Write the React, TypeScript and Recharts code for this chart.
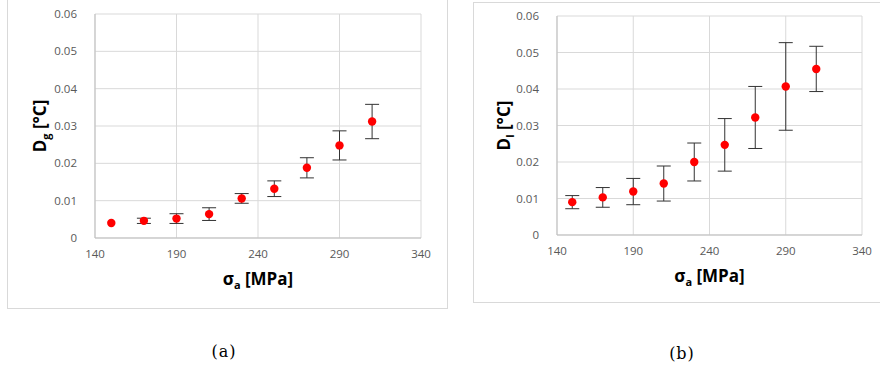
import React from "react";
import { ScatterChart, Scatter, XAxis, YAxis, CartesianGrid, ErrorBar, Label } from "recharts";

// stress amplitude [MPa]
const stress = [150, 170, 190, 210, 230, 250, 270, 290, 310];

// D_g and its scatter (the first point has no visible bar)
const dg = [0.004, 0.0046, 0.0052, 0.0064, 0.0106, 0.0132, 0.0188, 0.0248, 0.0312];
const dgErr = [null, 0.0007, 0.0013, 0.0017, 0.0013, 0.0021, 0.0027, 0.0039, 0.0046];

// D_l and its scatter
const dl = [0.009, 0.0103, 0.0119, 0.0141, 0.02, 0.0247, 0.0322, 0.0407, 0.0455];
const dlErr = [0.0018, 0.0027, 0.0036, 0.0048, 0.0052, 0.0072, 0.0085, 0.012, 0.0062];

const xTicks = [140, 190, 240, 290, 340];
const yTicks = [0, 0.01, 0.02, 0.03, 0.04, 0.05, 0.06];

const FONT = "'Open Sans', sans-serif";
const GRID = "#d9d9d9";
const TICK = { fill: "#595959", fontSize: 11.5, fontFamily: FONT };

const XTitle = ({ viewBox, dy }: any) => {
  const { x, y, width } = viewBox;
  return (
    <text x={x + width / 2} y={y + dy} textAnchor="middle" fontFamily={FONT} fontWeight={700} fontSize={17} fill="#000">
      σ<tspan fontSize={11} dy={4}>a</tspan>
      <tspan dy={-4}> [MPa]</tspan>
    </text>
  );
};

const YTitle = ({ viewBox, sub, gap }: any) => {
  const { x, y, width, height } = viewBox;
  const bx = x + width - gap;
  const cy = y + height / 2;
  return (
    <text
      x={bx}
      y={cy}
      transform={`rotate(-90 ${bx} ${cy})`}
      textAnchor="middle"
      fontFamily={FONT}
      fontWeight={700}
      fontSize={17}
      fill="#000"
    >
      D<tspan fontSize={11} dy={4}>{sub}</tspan>
      <tspan dy={-4}> [°C]</tspan>
    </text>
  );
};

const Dot = (p: any) => <circle cx={p.cx} cy={p.cy} r={4.2} fill="#ff0000" />;
const NoDot = () => <g />;

type PanelProps = {
  left: number;
  values: number[];
  errors: (number | null)[];
  sub: string;
  margin: { top: number; right: number; bottom: number; left: number };
  yWidth: number;
  xMargin: number;
  xTitleDy: number;
  yTitleGap: number;
};

const Panel = ({ left, values, errors, sub, margin, yWidth, xMargin, xTitleDy, yTitleGap }: PanelProps) => {
  const data = stress.map((s, i) => ({ x: s, y: values[i], err: errors[i] }));
  return (
    <div style={{ position: "absolute", left, top: 0 }}>
      <ScatterChart width={440} height={310} margin={margin}>
        <CartesianGrid stroke={GRID} strokeWidth={1} />
        <XAxis
          type="number"
          dataKey="x"
          domain={[140, 340]}
          ticks={xTicks}
          tick={TICK}
          tickLine={false}
          tickSize={0}
          tickMargin={xMargin}
          axisLine={{ stroke: "#bfbfbf" }}
          height={30}
        >
          <Label content={(props: any) => <XTitle {...props} dy={xTitleDy} />} />
        </XAxis>
        <YAxis
          type="number"
          dataKey="y"
          domain={[0, 0.06]}
          ticks={yTicks}
          tick={TICK}
          tickLine={false}
          tickSize={0}
          tickMargin={18}
          axisLine={{ stroke: "#bfbfbf" }}
          width={yWidth}
        >
          <Label content={(props: any) => <YTitle {...props} sub={sub} gap={yTitleGap} />} />
        </YAxis>
        {/* error bars first so the markers sit on top of them */}
        <Scatter data={data} shape={NoDot} isAnimationActive={false}>
          <ErrorBar dataKey="err" direction="y" width={7} stroke="#333333" strokeWidth={1} isAnimationActive={false} />
        </Scatter>
        <Scatter data={data} shape={Dot} isAnimationActive={false} />
      </ScatterChart>
    </div>
  );
};

export default function App() {
  return (
    <div style={{ position: "absolute", left: 0, top: 0, width: 880, height: 374, background: "#fff", overflow: "hidden" }}>
      <div style={{ position: "absolute", left: 7, top: -2, width: 441, height: 311, border: `1px solid ${GRID}`, boxSizing: "border-box" }} />
      <div style={{ position: "absolute", left: 473, top: 2, width: 420, height: 301, border: `1px solid ${GRID}`, boxSizing: "border-box" }} />
      <Panel
        left={0}
        values={dg}
        errors={dgErr}
        sub="g"
        margin={{ top: 14, right: 19, bottom: 42, left: 0 }}
        yWidth={95}
        xMargin={12}
        xTitleDy={47}
        yTitleGap={49}
      />
      <Panel
        left={440}
        values={dl}
        errors={dlErr}
        sub="l"
        margin={{ top: 16, right: 18, bottom: 45, left: 0 }}
        yWidth={117}
        xMargin={11.5}
        xTitleDy={46.5}
        yTitleGap={47}
      />
      <div style={{ position: "absolute", left: 184, top: 342, width: 80, textAlign: "center", fontFamily: "'DejaVu Serif', serif", fontSize: 16, letterSpacing: 1 }}>
        (a)
      </div>
      <div style={{ position: "absolute", left: 642, top: 344, width: 80, textAlign: "center", fontFamily: "'DejaVu Serif', serif", fontSize: 16, letterSpacing: 1 }}>
        (b)
      </div>
    </div>
  );
}
